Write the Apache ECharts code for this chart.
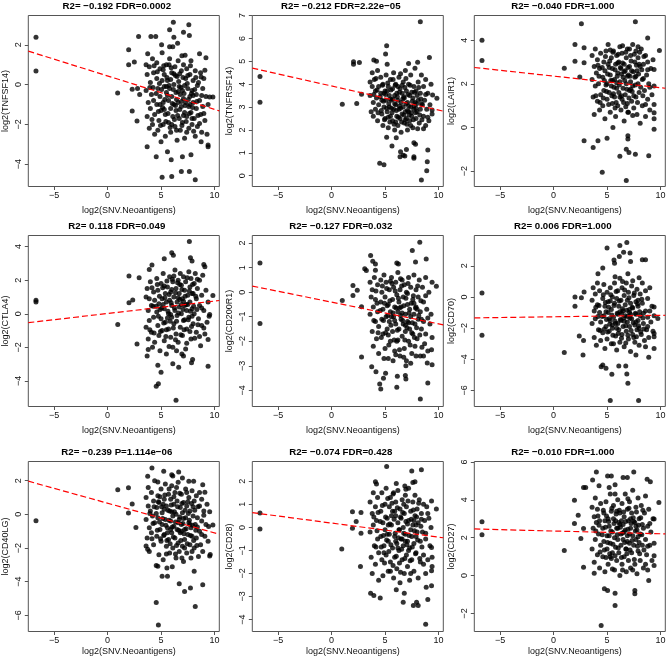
<!DOCTYPE html>
<html><head><meta charset="utf-8">
<script src="https://cdn.jsdelivr.net/npm/echarts@6/dist/echarts.min.js"></script>
<style>html,body{margin:0;padding:0;background:#fff}#c{width:669px;height:659px}</style>
</head><body><div id="c"></div>
<script>
const genes = ['TNFSF14','TNFRSF14','LAIR1','CTLA4','CD200R1','CD70','CD40LG','CD28','CD27'];
const titles = ['R2= \u22120.192 FDR=0.0002','R2= \u22120.212 FDR=2.22e\u221205','R2= \u22120.040 FDR=1.000',
  'R2= 0.118 FDR=0.049','R2= \u22120.127 FDR=0.032','R2= 0.006 FDR=1.000',
  'R2= \u22120.239 P=1.114e\u221206','R2= \u22120.074 FDR=0.428','R2= \u22120.010 FDR=1.000'];
const xName = 'log2(SNV.Neoantigens)';
const xTicks = [-5,0,5,10];
const xRange = [-7.42,10.45];
const yRanges = [[-5.12,3.47],[-0.47,7.0],[-2.7,5.13],[-5.52,4.66],[-4.66,2.31],[-7.03,3.95],[-6.96,3.14],[-4.52,2.86],[-2.95,6.02]];
const yTicks = [[-4,-2,0,2],[0,1,2,3,4,5,6,7],[-2,0,2,4],[-4,-2,0,2,4],[-4,-3,-2,-1,0,1,2],[-6,-4,-2,0,2],[-6,-4,-2,0,2],[-4,-3,-2,-1,0,1,2],[-2,0,2,4,6]];
const fitIntercept = [0.434,3.92,2.355,0.018,-0.406,-1.27,0.662,0.187,2.352];
const fitSlope = [-0.1679,-0.1052,-0.0532,0.0739,-0.0884,0.0095,-0.1763,-0.061,-0.01455];

const tnfsf14 = [[-6.7,2.38],[-6.7,0.68],[0.94,-0.42],[1.97,1.75],[1.97,1.0],[2.3,-0.23],[2.5,1.13],[2.3,-1.33],[2.75,-1.83],[2.9,2.42],[2.8,-0.2],[3.0,-0.5],
[6.15,3.13],[7.6,3.0],[7.1,2.63],[5.8,2.75],[7.65,2.47],[4.05,2.42],[4.5,2.42],[6.2,2.38],[6.55,2.08],[5.05,2.0],[5.8,1.9],[3.75,1.55],[8.6,1.55],[9.2,1.35],[7.25,1.47],
[6.0,-4.62],[5.1,-4.65],[8.2,-4.78],[6.9,-4.37],[7.65,-4.37],[4.55,-3.62],[3.7,-3.12],[5.95,-3.78],[7.0,-3.62],[7.8,-3.53],[9.4,-3.03],[9.4,-3.12],[8.75,-2.87],[5.0,-2.87],[5.6,-3.37],
[9.55,-0.62],[9.85,-0.62],[9.1,0.72],[8.75,0.38],
[3.6,1.0],[3.7,0.5],[3.6,-0.3],[3.8,-0.9],[3.7,-1.6],[3.9,-2.2],[3.9,0.9],[4.0,0.1],[4.1,-0.5],[4.0,-1.2],[4.2,1.3],[4.2,-2.0],[4.3,0.6],[4.3,-0.8],[4.4,-1.5],[4.4,-2.5],
[4.6,1.1],[4.6,0.3],[4.7,-0.2],[4.6,-1.0],[4.8,-1.8],[4.7,-2.3],[4.9,0.8],[4.9,-0.6],[5.0,-1.3],[5.1,0.2],[5.1,1.6],[5.2,-0.9],[5.2,-2.0],[5.3,0.5],[5.3,-0.1],[5.4,-1.5],[5.4,-2.6],[5.5,1.0],[5.5,-0.4],
[5.6,0.2],[5.7,-0.8],[5.7,-1.9],[5.8,1.3],[5.8,-0.2],[5.9,-1.2],[5.9,-2.4],[6.0,0.6],[6.0,-0.6],[6.1,-1.6],[6.1,1.9],[6.2,0.0],[6.2,-1.0],[6.3,-2.1],[6.3,0.9],[6.4,-0.4],[6.4,-1.3],[6.5,-2.8],[6.5,0.4],
[6.6,-0.9],[6.6,1.2],[6.7,-0.1],[6.7,-1.7],[6.8,-0.5],[6.8,-2.3],[6.9,0.7],[6.9,-1.1],[7.0,-0.3],[7.0,-1.9],[7.1,1.0],[7.1,-0.7],[7.2,-1.4],[7.2,-2.7],[7.3,0.3],[7.3,-0.9],[7.4,-1.6],[7.4,0.8],[7.5,-0.2],
[7.6,-1.1],[7.6,-2.2],[7.7,0.5],[7.7,-0.6],[7.8,-1.4],[7.8,1.2],[7.9,-0.3],[7.9,-2.0],[8.0,0.2],[8.0,-0.9],[8.1,-1.7],[8.2,-2.6],[8.2,0.7],[8.3,-0.5],[8.3,-1.2],[8.4,-2.1],[8.5,0.1],
[8.6,-0.8],[8.7,-1.5],[8.7,0.6],[8.8,-2.4],[8.9,-0.2],[8.9,-1.1],[9.0,0.3],[9.1,-1.8],[9.2,-0.6],[9.3,-2.5],[9.4,-1.0],
[4.55,-0.45],[4.65,0.65],[4.75,-1.35],[4.85,0.05],[4.95,-2.05],[5.05,-0.25],[5.15,-1.15],[5.25,0.95],[5.35,-0.75],[5.45,-1.85],[5.55,0.35],[5.65,-1.45],[5.75,-0.05],[5.85,-2.15],[5.95,0.85],[6.05,-0.95],[6.15,-0.25],[6.25,-1.75],[6.35,0.45],[6.45,-0.75],
[6.55,-1.55],[6.65,0.15],[6.75,-1.25],[6.85,-0.15],[6.95,-2.05],[7.05,0.35],[7.15,-0.45],[7.25,-1.05],[7.35,-1.85],[7.45,0.05],[7.55,-0.75],[7.65,-1.45],[7.75,0.95],[7.85,-0.45],[7.95,-1.15],[8.05,-2.35],[8.15,-0.25],[8.25,0.35],[8.35,-0.85],[8.45,-1.55],
[4.25,-0.15],[4.35,0.95],[4.15,-1.75],[3.95,-0.15],[5.2,0.75],[5.6,-0.55],[6.0,-2.0],[6.35,-1.05],[6.75,0.55],[7.1,-1.55],[7.5,0.45],[7.9,-1.7],[8.4,-0.05],[8.8,-0.55],[9.0,-1.45],[5.9,0.25],[6.6,-0.35],[7.2,-0.05],[5.3,-1.25],[6.9,-0.85],
[7.7,-1.0],[6.2,0.55],[8.0,-0.55],[4.9,-1.0],[5.5,-0.1],[6.45,-2.3],[7.4,-2.4],[8.6,-1.95],[5.75,1.0],[6.95,1.45]];

const tnfrsf14 = [[-6.7,4.33],[-6.7,3.21],[1.0,3.12],[2.05,4.98],[2.05,4.87],[2.6,4.95],[2.35,3.16],[2.8,3.56],[5.15,5.68],[5.05,5.32],[5.2,4.87],[8.3,6.73],[9.15,5.17],[3.95,5.06],[4.2,5.0],[8.05,4.96],[7.2,4.9],
[4.5,0.55],[4.9,0.48],[8.4,-0.19],[8.9,0.22],[8.95,0.61],[9.0,1.12],[7.7,0.83],[7.7,0.76],[6.85,0.86],[6.7,0.9],[6.4,0.83],[7.85,1.38],[7.7,1.44],[7.0,1.15],[6.45,1.05],[5.65,1.3],[5.15,1.68],[6.05,1.66],[9.85,3.38],[9.45,3.53],[9.4,2.87],
[3.6,4.1],[3.6,3.5],[3.7,2.8],[3.8,4.5],[3.8,3.9],[3.9,3.2],[3.9,2.6],[4.0,4.2],[4.1,3.7],[4.1,2.9],[4.2,3.4],[4.3,4.6],[4.3,2.4],[4.4,3.9],[4.4,3.1],
[4.6,4.3],[4.6,3.6],[4.7,2.7],[4.7,3.3],[4.8,4.0],[4.8,2.2],[4.9,3.0],[5.0,3.7],[5.0,2.5],[5.1,4.4],[5.1,3.3],[5.2,2.8],[5.3,3.9],[5.3,2.1],[5.4,3.5],[5.4,3.0],[5.5,4.2],[5.5,2.6],
[5.6,3.3],[5.7,3.8],[5.7,2.4],[5.8,2.9],[5.8,4.5],[5.9,3.5],[5.9,2.0],[6.0,3.1],[6.0,4.0],[6.1,2.6],[6.1,3.6],[6.2,2.2],[6.2,3.3],[6.3,4.3],[6.3,2.9],[6.4,3.8],[6.4,2.5],[6.5,3.2],[6.5,1.9],
[6.6,3.6],[6.6,2.7],[6.7,4.1],[6.7,3.0],[6.8,2.3],[6.8,3.4],[6.9,2.8],[6.9,4.6],[7.0,3.7],[7.0,2.5],[7.1,3.2],[7.1,2.0],[7.2,4.0],[7.2,2.8],[7.3,3.5],[7.3,2.4],[7.4,3.0],[7.4,4.4],[7.5,2.6],
[7.6,3.4],[7.6,2.1],[7.7,3.9],[7.7,2.9],[7.8,3.2],[7.8,4.7],[7.9,2.5],[7.9,3.7],[8.0,2.8],[8.1,4.1],[8.1,3.3],[8.2,2.3],[8.3,3.6],[8.3,2.9],[8.4,4.4],[8.5,3.1],
[8.6,2.6],[8.6,3.9],[8.7,3.3],[8.8,2.2],[8.8,4.2],[8.9,2.9],[9.0,3.6],[9.1,2.4],[9.2,3.1],[9.3,4.0],[9.4,2.7],
[4.55,3.45],[4.65,2.85],[4.75,3.95],[4.85,3.25],[4.95,2.45],[5.05,3.55],[5.15,2.95],[5.25,4.05],[5.35,3.15],[5.45,2.35],[5.55,3.75],[5.65,2.75],[5.75,3.35],[5.85,2.25],[5.95,3.95],[6.05,2.85],[6.15,3.45],[6.25,2.55],[6.35,3.65],[6.45,2.95],
[6.55,2.35],[6.65,3.35],[6.75,2.65],[6.85,3.85],[6.95,3.15],[7.05,2.25],[7.15,3.55],[7.25,2.65],[7.35,3.95],[7.45,2.75],[7.55,3.25],[7.65,2.45],[7.75,3.65],[7.85,2.75],[7.95,3.15],[8.05,2.05],[8.15,3.85],[8.25,2.65],[8.35,3.35],[8.45,2.45],
[4.25,3.75],[4.35,2.75],[4.15,4.25],[3.95,3.55],[5.2,3.7],[5.6,2.95],[6.0,2.35],[6.35,3.05],[6.75,3.45],[7.1,2.85],[7.5,3.65],[7.9,2.95],[8.4,3.15],[8.8,3.55],[9.0,2.55],[5.9,3.15],[6.6,3.95],[7.2,3.05],[5.3,2.55],[6.9,2.45],
[7.7,3.05],[6.2,3.9],[8.0,3.5],[4.9,3.6],[5.5,3.35],[6.45,4.45],[7.4,2.2],[8.6,2.05],[5.75,4.2],[6.95,4.25]];

const lair1 = [[-6.7,4.0],[-6.7,3.07],[1.0,2.71],[2.0,3.8],[2.0,3.04],[2.45,2.31],[2.6,4.75],[2.85,3.65],[2.85,2.97],[2.85,-0.61],[3.7,-0.91],[4.15,-0.61],[4.55,-2.05],[7.65,4.84],[8.8,4.1],[9.9,3.53],
[6.8,-2.43],[7.05,-1.14],[6.8,-0.99],[7.65,-1.22],[6.2,-1.32],[8.9,-1.29],[9.4,-0.08],[9.4,0.68],[9.4,1.06],[9.4,1.9],[9.4,2.66],[5.0,-0.49],[5.55,0.0],[6.95,-0.53],[6.95,-0.38],
[3.6,3.3],[3.6,2.2],[3.7,1.4],[3.8,2.8],[3.8,0.6],[3.9,1.9],[3.9,3.6],[4.0,2.5],[4.1,1.2],[4.1,3.1],[4.2,2.0],[4.3,0.8],[4.3,2.7],[4.4,1.5],[4.4,3.4],
[4.6,2.3],[4.6,1.0],[4.7,3.0],[4.7,1.7],[4.8,2.6],[4.8,0.4],[4.9,3.5],[5.0,2.0],[5.0,1.3],[5.1,2.9],[5.1,3.8],[5.2,1.6],[5.3,2.4],[5.3,0.7],[5.4,3.2],[5.4,1.9],[5.5,2.7],[5.5,1.1],
[5.6,3.5],[5.7,2.2],[5.7,1.4],[5.8,2.9],[5.8,0.5],[5.9,1.8],[5.9,3.3],[6.0,2.5],[6.0,1.0],[6.1,3.0],[6.1,1.6],[6.2,2.1],[6.2,3.7],[6.3,0.8],[6.3,2.7],[6.4,1.3],[6.4,3.4],[6.5,2.3],[6.5,1.8],
[6.6,2.9],[6.6,0.3],[6.7,2.6],[6.7,1.5],[6.8,3.2],[6.8,2.0],[6.9,1.1],[6.9,3.6],[7.0,2.4],[7.0,0.7],[7.1,2.8],[7.1,1.7],[7.2,3.3],[7.2,2.1],[7.3,1.2],[7.3,2.6],[7.4,3.8],[7.4,1.9],[7.5,0.9],
[7.6,2.3],[7.6,3.0],[7.7,1.4],[7.7,3.5],[7.8,2.6],[7.8,0.6],[7.9,2.0],[7.9,3.2],[8.0,1.6],[8.1,2.8],[8.1,0.2],[8.2,3.6],[8.3,2.2],[8.3,1.0],[8.4,2.9],[8.5,1.7],
[8.6,3.3],[8.6,0.5],[8.7,2.4],[8.8,1.3],[8.8,3.0],[8.9,2.0],[9.0,0.8],[9.1,2.7],[9.2,1.5],[9.3,3.1],[9.4,0.4],
[4.55,2.75],[4.65,1.35],[4.75,2.15],[4.85,3.25],[4.95,1.65],[5.05,2.45],[5.15,1.05],[5.25,3.05],[5.35,2.15],[5.45,1.45],[5.55,3.45],[5.65,1.85],[5.75,2.65],[5.85,1.15],[5.95,2.35],[6.05,3.35],[6.15,1.95],[6.25,2.75],[6.35,1.45],[6.45,2.95],
[6.55,1.15],[6.65,2.15],[6.75,3.45],[6.85,1.75],[6.95,2.75],[7.05,1.35],[7.15,2.35],[7.25,3.05],[7.35,1.65],[7.45,2.55],[7.55,3.35],[7.65,1.95],[7.75,2.85],[7.85,1.15],[7.95,2.45],[8.05,3.45],[8.15,1.85],[8.25,2.65],[8.35,1.45],[8.45,3.25],
[4.25,2.35],[4.35,1.15],[4.15,2.85],[3.95,1.45],[5.2,2.75],[5.6,1.55],[6.0,2.95],[6.35,2.45],[6.75,0.95],[7.1,3.6],[7.5,1.45],[7.9,3.7],[8.4,2.25],[8.8,2.65],[9.0,1.85],[5.9,2.05],[6.6,2.55],[7.2,1.75],[5.3,3.55],[6.9,2.35],
[7.7,2.35],[6.2,1.4],[8.0,2.9],[4.9,1.95],[5.5,2.15],[6.45,3.75],[7.4,0.55],[8.6,1.05],[5.75,0.9],[6.95,0.7]];

const ctla4 = [[-6.7,0.8],[-6.7,0.7],[0.95,-0.64],[2.0,2.25],[2.0,0.66],[2.35,0.82],[2.75,-1.8],[2.95,2.15],[7.65,4.3],[6.0,3.64],[6.15,3.48],[7.75,3.34],[7.9,3.14],[5.3,3.28],[4.15,2.9],[3.9,2.64],[9.0,2.94],[9.1,2.8],[9.85,1.09],
[4.55,-4.31],[4.75,-4.17],[6.4,-5.15],[4.7,-3.06],[5.0,-3.48],[6.1,-2.98],[6.65,-3.18],[7.1,-2.52],[7.95,-2.72],[7.85,-2.92],[9.4,-3.12],[9.4,-1.53],[9.5,-0.14],[9.55,-0.04],[3.7,-2.52],[3.8,-2.13],
[3.6,1.0],[3.6,-0.8],[3.7,1.5],[3.8,0.2],[3.8,-1.5],[3.9,0.9],[3.9,-0.4],[4.0,1.9],[4.1,-1.1],[4.1,0.5],[4.2,-2.0],[4.3,1.3],[4.3,-0.2],[4.4,0.8],[4.4,-1.7],
[4.6,2.1],[4.6,0.1],[4.7,-0.7],[4.7,1.4],[4.8,-1.3],[4.8,0.6],[4.9,-2.2],[5.0,1.8],[5.0,-0.3],[5.1,0.9],[5.1,-1.0],[5.2,2.4],[5.3,0.3],[5.3,-1.6],[5.4,1.2],[5.4,-0.5],[5.5,0.7],[5.5,-2.4],
[5.6,1.6],[5.7,0.0],[5.7,-0.9],[5.8,2.2],[5.8,0.8],[5.9,-1.4],[5.9,1.3],[6.0,-0.2],[6.0,0.5],[6.1,-2.0],[6.1,1.9],[6.2,-0.6],[6.2,1.0],[6.3,0.2],[6.3,2.6],[6.4,-1.2],[6.4,1.5],[6.5,-0.1],[6.5,0.7],
[6.6,2.0],[6.6,-1.7],[6.7,0.4],[6.7,1.2],[6.8,-0.8],[6.8,2.4],[6.9,0.0],[6.9,1.7],[7.0,-1.3],[7.0,0.9],[7.1,2.2],[7.1,-0.4],[7.2,0.5],[7.2,1.4],[7.3,-2.1],[7.3,1.9],[7.4,0.2],[7.4,-0.9],[7.5,1.1],
[7.6,2.5],[7.6,-0.2],[7.7,0.7],[7.7,1.6],[7.8,-1.5],[7.8,2.1],[7.9,0.3],[7.9,1.2],[8.0,-0.6],[8.1,1.8],[8.1,0.0],[8.2,2.4],[8.3,-1.1],[8.3,0.9],[8.4,1.5],[8.5,-0.3],
[8.6,2.0],[8.6,0.5],[8.7,-1.9],[8.8,1.1],[8.8,-0.7],[8.9,2.3],[9.0,0.2],[9.1,-1.2],[9.2,1.4],[9.3,-0.5],[9.4,0.7],
[4.55,0.45],[4.65,1.75],[4.75,-0.15],[4.85,1.05],[4.95,-1.05],[5.05,0.35],[5.15,1.55],[5.25,-0.55],[5.35,0.95],[5.45,-1.35],[5.55,1.95],[5.65,0.15],[5.75,1.15],[5.85,-0.45],[5.95,0.65],[6.05,2.05],[6.15,-0.85],[6.25,0.35],[6.35,1.25],[6.45,-0.45],
[6.55,1.85],[6.65,0.05],[6.75,0.85],[6.85,-1.25],[6.95,1.45],[7.05,0.25],[7.15,-0.95],[7.25,1.05],[7.35,0.55],[7.45,2.15],[7.55,-0.35],[7.65,1.35],[7.75,0.15],[7.85,-0.75],[7.95,1.75],[8.05,0.45],[8.15,-1.45],[8.25,1.05],[8.35,0.25],[8.45,-0.65],
[4.25,0.45],[4.35,-1.15],[4.15,1.55],[3.95,-0.95],[5.2,0.55],[5.6,-0.25],[6.0,1.45],[6.35,-1.55],[6.75,1.75],[7.1,0.75],[7.5,0.55],[7.9,-0.15],[8.4,2.05],[8.8,0.35],[9.0,-0.85],[5.9,-0.05],[6.6,0.95],[7.2,-0.35],[5.3,1.65],[6.9,0.55],
[7.7,-1.05],[6.2,2.25],[8.0,1.2],[4.9,0.25],[5.5,-0.95],[6.45,-2.2],[7.4,-1.75],[8.6,-1.35],[5.75,-1.95],[6.95,-2.4]];

const cd200r1 = [[-6.7,1.19],[-6.7,-1.28],[1.0,-0.34],[2.0,0.27],[2.0,-0.14],[2.4,0.08],[2.8,-0.59],[2.8,-2.64],[3.65,1.49],[3.85,1.26],[4.1,1.15],[3.1,0.95],[3.25,0.88],[4.1,0.89],[8.25,2.03],[7.55,1.7],[6.1,1.19],[6.25,1.15],[7.85,1.23],[8.85,1.35],[9.8,0.24],
[8.3,-4.35],[6.1,-3.88],[4.6,-3.95],[4.5,-3.74],[3.75,-3.04],[4.15,-3.24],[5.05,-3.3],[4.85,-3.51],[6.15,-3.43],[6.95,-3.54],[6.9,-3.4],[9.0,-3.7],[8.95,-2.89],[9.4,-2.96],[9.35,-2.35],[9.4,-1.85],
[3.6,0.4],[3.6,-0.9],[3.7,-0.2],[3.8,-1.6],[3.8,0.1],[3.9,-0.6],[3.9,-2.2],[4.0,0.6],[4.1,-1.2],[4.1,-0.3],[4.2,-1.9],[4.3,0.3],[4.3,-0.8],[4.4,-1.4],[4.4,-2.5],
[4.6,0.5],[4.6,-0.4],[4.7,-1.1],[4.7,0.0],[4.8,-1.7],[4.8,-0.7],[4.9,0.7],[5.0,-0.2],[5.0,-2.3],[5.1,-1.0],[5.1,0.4],[5.2,-1.5],[5.3,-0.5],[5.3,-2.7],[5.4,0.1],[5.4,-1.2],[5.5,-0.8],[5.5,-2.0],
[5.6,0.6],[5.7,-0.3],[5.7,-1.6],[5.8,0.2],[5.8,-1.0],[5.9,-2.4],[5.9,-0.6],[6.0,0.4],[6.0,-1.3],[6.1,-0.1],[6.1,-2.0],[6.2,-0.8],[6.2,0.8],[6.3,-1.5],[6.3,-0.4],[6.4,-2.6],[6.4,0.1],[6.5,-1.1],[6.5,-0.6],
[6.6,0.5],[6.6,-1.8],[6.7,-0.2],[6.7,-1.3],[6.8,-2.3],[6.8,0.3],[6.9,-0.9],[6.9,-1.6],[7.0,0.0],[7.0,-2.8],[7.1,-0.5],[7.1,-1.2],[7.2,0.6],[7.2,-2.0],[7.3,-0.7],[7.3,-1.5],[7.4,0.2],[7.4,-1.0],[7.5,-2.5],
[7.6,-0.3],[7.6,-1.7],[7.7,0.7],[7.7,-0.9],[7.8,-1.3],[7.8,-2.2],[7.9,0.1],[7.9,-0.6],[8.0,-1.9],[8.1,-0.2],[8.1,-1.1],[8.2,0.5],[8.3,-2.6],[8.3,-0.8],[8.4,-1.5],[8.5,0.2],
[8.6,-1.2],[8.6,-0.4],[8.7,-2.1],[8.8,0.6],[8.8,-1.7],[8.9,-0.7],[9.0,-2.4],[9.1,0.0],[9.2,-1.3],[9.3,-0.9],[9.4,0.4],
[4.55,-0.75],[4.65,-1.85],[4.75,0.25],[4.85,-1.15],[4.95,-0.45],[5.05,-1.65],[5.15,0.15],[5.25,-0.95],[5.35,-2.15],[5.45,-0.35],[5.55,-1.35],[5.65,0.35],[5.75,-0.85],[5.85,-1.95],[5.95,0.05],[6.05,-0.65],[6.15,-1.55],[6.25,-0.25],[6.35,-2.35],[6.45,-0.95],
[6.55,0.25],[6.65,-1.15],[6.75,-0.55],[6.85,-1.95],[6.95,-0.25],[7.05,-1.45],[7.15,0.35],[7.25,-0.85],[7.35,-2.15],[7.45,-0.45],[7.55,-1.25],[7.65,-0.15],[7.75,-1.85],[7.85,-0.65],[7.95,-1.45],[8.05,0.25],[8.15,-0.95],[8.25,-1.75],[8.35,-0.35],[8.45,-2.25],
[4.25,-0.45],[4.35,-1.65],[4.15,0.05],[3.95,-1.15],[5.2,-0.55],[5.6,-1.0],[6.0,-2.55],[6.35,-0.65],[6.75,-2.65],[7.1,-0.05],[7.5,-1.65],[7.9,-2.6],[8.4,-1.1],[8.8,-0.15],[9.0,-1.05],[5.9,-1.15],[6.6,-0.85],[7.2,-1.25],[5.3,-1.75],[6.9,-1.35],
[7.7,-0.45],[6.2,-1.95],[8.0,-0.7],[4.9,-2.7],[5.5,0.45],[6.45,0.55],[7.4,-2.9],[8.6,-2.6],[5.75,-2.8],[6.95,-3.0]];

const cd70 = [[-6.7,0.26],[-6.7,-2.45],[1.0,-3.57],[2.0,0.0],[2.0,-0.6],[2.4,-2.51],[2.6,-0.04],[2.75,-3.72],[2.85,0.32],[2.8,-2.8],[5.0,3.15],[6.2,3.3],[6.85,3.5],[6.55,2.87],[7.15,2.83],[7.2,2.28],[5.65,2.38],[5.7,2.17],[6.15,2.6],[8.3,2.4],[8.6,2.4],[4.6,1.87],[4.15,1.49],[8.0,1.23],
[5.45,-4.96],[6.85,-4.94],[6.95,-5.53],[5.3,-6.64],[7.95,-6.64],[4.45,-4.47],[4.6,-4.36],[4.9,-4.57],[6.1,-4.43],[6.75,-4.43],[8.9,-3.87],[7.7,-3.72],[9.4,-3.3],[9.4,-2.55],[9.4,-2.34],[9.4,-0.64],[9.75,-1.38],
[3.6,-0.2],[3.6,-1.7],[3.7,0.6],[3.8,-0.9],[3.8,-2.6],[3.9,0.2],[3.9,-1.4],[4.0,-3.1],[4.1,-0.5],[4.1,0.9],[4.2,-2.1],[4.3,-1.0],[4.3,0.4],[4.4,-2.8],[4.4,-1.6],
[4.6,-0.1],[4.6,-2.3],[4.7,0.8],[4.7,-1.2],[4.8,-3.3],[4.8,-0.6],[4.9,-1.9],[5.0,0.3],[5.0,-2.7],[5.1,-1.0],[5.1,-0.3],[5.2,-2.2],[5.3,0.6],[5.3,-1.5],[5.4,-3.0],[5.4,-0.8],[5.5,0.0],[5.5,-2.0],
[5.6,-1.3],[5.7,0.9],[5.7,-0.4],[5.8,-2.5],[5.8,-1.7],[5.9,-0.1],[5.9,-3.4],[6.0,0.4],[6.0,-1.1],[6.1,-2.1],[6.1,-0.6],[6.2,1.2],[6.2,-2.9],[6.3,-0.2],[6.3,-1.5],[6.4,-2.4],[6.4,0.6],[6.5,-0.9],[6.5,-1.9],
[6.6,0.1],[6.6,-3.2],[6.7,-1.2],[6.7,-0.5],[6.8,-2.2],[6.8,0.9],[6.9,-1.6],[6.9,-0.2],[7.0,-2.7],[7.0,0.3],[7.1,-1.0],[7.1,-1.9],[7.2,-0.4],[7.2,-3.5],[7.3,0.7],[7.3,-1.4],[7.4,-2.4],[7.4,-0.7],[7.5,0.1],
[7.6,-1.8],[7.6,-2.9],[7.7,-0.3],[7.7,-1.1],[7.8,0.5],[7.8,-2.1],[7.9,-1.5],[7.9,-0.6],[8.0,-3.1],[8.1,0.2],[8.1,-1.2],[8.2,-2.4],[8.3,-0.4],[8.3,0.9],[8.4,-1.7],[8.5,-2.8],
[8.6,-0.9],[8.6,0.4],[8.7,-2.1],[8.8,-1.3],[8.8,-0.1],[8.9,-2.6],[9.0,0.6],[9.1,-1.6],[9.2,-0.6],[9.3,-2.2],[9.4,-1.2],
[4.55,-1.25],[4.65,0.15],[4.75,-2.05],[4.85,-0.35],[4.95,-1.45],[5.05,-2.25],[5.15,-0.65],[5.25,-1.75],[5.35,0.15],[5.45,-1.15],[5.55,-2.45],[5.65,-0.55],[5.75,-1.55],[5.85,0.35],[5.95,-1.05],[6.05,-2.35],[6.15,-0.25],[6.25,-1.45],[6.35,-2.65],[6.45,-0.75],
[6.55,-1.35],[6.65,0.45],[6.75,-1.85],[6.85,-0.85],[6.95,-2.45],[7.05,-0.05],[7.15,-1.35],[7.25,-2.15],[7.35,-0.65],[7.45,-1.65],[7.55,0.25],[7.65,-1.05],[7.75,-2.55],[7.85,-0.45],[7.95,-1.85],[8.05,-0.95],[8.15,-2.25],[8.25,-0.15],[8.35,-1.35],[8.45,-2.05],
[4.25,-0.55],[4.35,-2.15],[4.15,-1.25],[3.95,-0.65],[5.2,-1.4],[5.6,-3.0],[6.0,-1.7],[6.35,-1.05],[6.75,-2.95],[7.1,-0.8],[7.5,-2.6],[7.9,-0.2],[8.4,-1.05],[8.8,-1.9],[9.0,-0.9],[5.9,-2.0],[6.6,-1.55],[7.2,-1.1],[5.3,-0.25],[6.9,-1.25],
[7.7,-1.6],[6.2,-0.95],[8.0,-2.0],[4.9,-0.95],[5.5,-1.8],[6.45,1.0],[7.4,1.05],[8.6,-3.2],[5.75,1.3],[6.95,1.5]];

const cd40lg = [[-6.7,-0.38],[0.95,1.46],[1.95,1.58],[1.95,0.08],[2.3,0.62],[4.75,-6.58],[4.55,-5.24],[8.2,-5.48],[8.9,-4.18],[7.2,-4.58],[7.75,-4.38],[6.7,-4.12],[5.1,-3.68],[5.6,-3.68],[4.7,-3.08],[4.55,-3.04],[5.55,-3.18],[6.05,-3.12],[8.1,-3.38],[9.55,-2.48],[9.6,-2.38],
[4.15,2.76],[5.25,2.56],[6.65,2.52],[6.0,2.36],[6.1,2.28],[7.6,1.96],[8.05,1.96],[7.0,2.16],[3.75,2.26],[4.7,1.92],[8.9,1.76],[9.1,1.32],[9.55,0.16],[9.85,-0.64],[9.45,-0.72],[2.65,-0.78],[3.6,-1.88],[3.75,-2.08],
[3.6,1.0],[3.6,-0.3],[3.7,-1.4],[3.8,0.5],[3.8,1.6],[3.9,-0.8],[3.9,-2.2],[4.0,0.2],[4.1,1.3],[4.1,-1.1],[4.2,-0.1],[4.3,0.8],[4.3,-1.8],[4.4,-0.5],[4.4,2.0],
[4.6,0.4],[4.6,-1.3],[4.7,1.1],[4.7,-0.2],[4.8,-2.4],[4.8,0.7],[4.9,-0.9],[5.0,1.5],[5.0,-1.6],[5.1,0.1],[5.1,-0.6],[5.2,-2.7],[5.3,0.9],[5.3,-1.2],[5.4,1.8],[5.4,-0.3],[5.5,-1.9],[5.5,0.5],
[5.6,-0.8],[5.7,1.2],[5.7,-1.5],[5.8,0.2],[5.8,-2.3],[5.9,-0.4],[5.9,0.9],[6.0,-1.1],[6.0,1.7],[6.1,-0.1],[6.1,-2.0],[6.2,0.6],[6.2,-0.7],[6.3,-1.4],[6.3,1.3],[6.4,-2.6],[6.4,0.0],[6.5,-0.9],[6.5,0.8],
[6.6,-1.7],[6.6,1.9],[6.7,-0.3],[6.7,-2.2],[6.8,0.4],[6.8,-1.1],[6.9,1.2],[6.9,-0.6],[7.0,-1.9],[7.0,0.1],[7.1,-2.8],[7.1,0.7],[7.2,-0.9],[7.2,-1.5],[7.3,1.5],[7.3,-0.2],[7.4,-2.3],[7.4,0.5],[7.5,-1.2],
[7.6,-0.5],[7.6,1.0],[7.7,-1.8],[7.7,0.2],[7.8,-2.6],[7.8,-0.8],[7.9,1.4],[7.9,-1.3],[8.0,-0.1],[8.1,0.8],[8.1,-2.0],[8.2,-0.6],[8.3,1.1],[8.3,-1.4],[8.4,-0.2],[8.5,-2.5],
[8.6,0.5],[8.6,-1.0],[8.7,-1.8],[8.8,0.9],[8.8,-0.4],[8.9,-2.2],[9.0,0.2],[9.1,-1.3],[9.2,-0.6],[9.3,0.6],[9.4,-1.6],
[4.55,0.05],[4.65,-0.95],[4.75,0.75],[4.85,-0.45],[4.95,-1.45],[5.05,0.45],[5.15,-0.25],[5.25,-1.25],[5.35,1.15],[5.45,-0.65],[5.55,-1.55],[5.65,0.25],[5.75,-0.35],[5.85,-1.75],[5.95,0.55],[6.05,-0.75],[6.15,-1.35],[6.25,0.15],[6.35,-0.45],[6.45,-1.85],
[6.55,0.45],[6.65,-0.95],[6.75,-0.15],[6.85,-1.55],[6.95,0.65],[7.05,-0.55],[7.15,-1.15],[7.25,0.25],[7.35,-0.85],[7.45,-1.75],[7.55,0.05],[7.65,-0.35],[7.75,-1.25],[7.85,0.65],[7.95,-0.65],[8.05,-1.55],[8.15,0.25],[8.25,-0.95],[8.35,-1.85],[8.45,0.45],
[4.25,-0.55],[4.35,0.45],[4.15,-1.45],[3.95,0.05],[5.2,0.6],[5.6,-1.1],[6.0,0.15],[6.35,-2.35],[6.75,1.25],[7.1,-0.25],[7.5,0.75],[7.9,-2.2],[8.4,-0.75],[8.8,-1.2],[9.0,-0.05],[5.9,-0.9],[6.6,-0.5],[7.2,-2.0],[5.3,0.3],[6.9,-1.0],
[7.7,-0.6],[6.2,1.05],[8.0,0.45],[4.9,1.05],[5.5,-2.35],[6.45,1.6],[7.4,1.3],[8.6,1.3],[5.75,1.5],[6.95,-2.6]];

const cd28 = [[-6.7,0.62],[-6.7,-0.07],[0.95,-0.94],[1.95,0.68],[1.95,-0.04],[2.3,0.25],[2.75,0.65],[2.7,-1.7],[2.75,-0.26],[5.15,2.64],[8.4,2.5],[7.5,2.45],[4.1,1.98],[4.2,1.88],[6.05,1.9],[6.85,1.8],[7.6,1.95],[7.8,1.98],[9.8,0.8],[9.35,1.15],
[8.8,-4.21],[7.65,-3.39],[7.95,-3.25],[8.1,-3.39],[6.7,-3.25],[6.8,-2.86],[6.05,-2.71],[3.65,-2.86],[3.95,-2.96],[4.55,-3.07],[9.0,-3.13],[8.85,-2.6],[9.35,-2.53],[9.35,-1.88],[9.4,-1.3],[9.35,-0.87],
[3.6,1.1],[3.6,-0.2],[3.7,-1.3],[3.8,0.6],[3.8,-2.0],[3.9,0.1],[3.9,1.5],[4.0,-0.8],[4.1,0.9],[4.1,-1.6],[4.2,0.3],[4.3,-0.5],[4.3,1.3],[4.4,-1.1],[4.4,-2.3],
[4.6,0.7],[4.6,-0.4],[4.7,1.5],[4.7,-1.4],[4.8,0.2],[4.8,-2.1],[4.9,-0.8],[5.0,1.0],[5.0,-0.1],[5.1,-1.2],[5.1,1.7],[5.2,0.4],[5.3,-0.6],[5.3,-1.9],[5.4,0.9],[5.4,-0.3],[5.5,1.3],[5.5,-1.5],
[5.6,0.1],[5.7,-0.9],[5.7,0.7],[5.8,-2.2],[5.8,1.5],[5.9,-0.4],[5.9,-1.3],[6.0,0.5],[6.0,1.1],[6.1,-0.7],[6.1,-1.8],[6.2,0.2],[6.2,1.6],[6.3,-1.0],[6.3,-0.1],[6.4,0.8],[6.4,-2.4],[6.5,-0.5],[6.5,0.4],
[6.6,-1.4],[6.6,1.2],[6.7,0.0],[6.7,-0.8],[6.8,0.6],[6.8,-2.0],[6.9,1.4],[6.9,-0.3],[7.0,-1.2],[7.0,0.9],[7.1,-0.6],[7.1,-1.7],[7.2,0.3],[7.2,1.7],[7.3,-0.9],[7.3,-2.3],[7.4,0.7],[7.4,-0.1],[7.5,-1.4],
[7.6,1.1],[7.6,0.1],[7.7,-0.7],[7.7,-1.9],[7.8,0.5],[7.8,1.4],[7.9,-0.4],[7.9,-1.1],[8.0,0.8],[8.1,-2.2],[8.1,0.2],[8.2,1.2],[8.3,-0.6],[8.3,-1.5],[8.4,0.6],[8.5,-0.2],
[8.6,1.0],[8.6,-1.2],[8.7,0.3],[8.8,-2.0],[8.8,-0.5],[8.9,0.9],[9.0,-1.4],[9.1,0.4],[9.2,-0.8],[9.3,0.0],[9.4,-1.7],
[4.55,0.25],[4.65,-0.85],[4.75,0.95],[4.85,-0.35],[4.95,-1.55],[5.05,0.45],[5.15,-0.55],[5.25,1.25],[5.35,-1.05],[5.45,0.15],[5.55,-0.75],[5.65,1.05],[5.75,-1.65],[5.85,0.35],[5.95,-0.25],[6.05,-1.25],[6.15,0.85],[6.25,-0.45],[6.35,-1.55],[6.45,0.45],
[6.55,-0.95],[6.65,0.65],[6.75,-0.25],[6.85,-1.35],[6.95,0.25],[7.05,-0.75],[7.15,1.15],[7.25,-0.35],[7.35,-1.45],[7.45,0.35],[7.55,-0.85],[7.65,0.75],[7.75,-0.15],[7.85,-1.15],[7.95,0.45],[8.05,-0.55],[8.15,1.05],[8.25,-1.35],[8.35,0.05],[8.45,-0.85],
[4.25,-0.15],[4.35,0.65],[4.15,-0.85],[3.95,0.45],[5.2,-0.3],[5.6,0.5],[6.0,-0.6],[6.35,-0.1],[6.75,1.0],[7.1,0.15],[7.5,-0.4],[7.9,0.1],[8.4,0.35],[8.8,-0.25],[9.0,0.6],[5.9,0.7],[6.6,-0.5],[7.2,-1.0],[5.3,0.1],[6.9,-0.6],
[7.7,0.3],[6.2,-0.9],[8.0,-0.2],[4.9,-1.1],[5.5,-1.9],[6.45,-1.95],[7.4,-2.0],[8.6,-1.6],[5.75,1.45],[6.95,1.65]];

const cd27 = [[-6.7,2.84],[-6.7,2.16],[1.0,1.32],[1.95,3.98],[1.95,2.75],[2.3,3.19],[2.55,1.96],[2.8,2.49],[2.8,0.44],[2.8,4.65],[3.0,4.65],[4.0,5.47],[3.65,5.05],[5.05,5.26],[5.4,5.26],[6.5,5.18],[6.9,5.18],[7.5,5.47],[8.75,5.09],[9.05,4.95],[5.75,4.79],[5.2,4.65],[4.25,4.74],[9.85,3.86],[9.4,2.98],
[4.45,-2.63],[5.75,-1.58],[5.75,-0.93],[7.6,-0.96],[7.6,-0.79],[4.75,-0.7],[5.05,-0.79],[3.8,0.12],[8.9,-0.26],[9.4,1.05],[9.4,0.53],
[3.6,3.6],[3.6,1.4],[3.7,2.5],[3.8,0.7],[3.8,3.1],[3.9,1.9],[3.9,4.1],[4.0,2.8],[4.1,1.1],[4.1,3.5],[4.2,2.2],[4.3,0.4],[4.3,2.9],[4.4,1.6],[4.4,3.8],
[4.6,2.5],[4.6,1.0],[4.7,3.3],[4.7,1.8],[4.8,2.9],[4.8,0.2],[4.9,3.9],[5.0,2.1],[5.0,1.4],[5.1,3.0],[5.1,0.6],[5.2,2.6],[5.3,4.3],[5.3,1.7],[5.4,3.4],[5.4,0.9],[5.5,2.3],[5.5,1.2],
[5.6,3.7],[5.7,2.0],[5.7,0.3],[5.8,2.9],[5.8,1.5],[5.9,3.4],[5.9,0.8],[6.0,2.5],[6.0,4.0],[6.1,1.2],[6.1,2.8],[6.2,0.0],[6.2,3.3],[6.3,2.2],[6.3,1.6],[6.4,3.8],[6.4,0.6],[6.5,2.7],[6.5,1.9],
[6.6,3.1],[6.6,1.0],[6.7,2.4],[6.7,4.3],[6.8,1.4],[6.8,0.2],[6.9,3.5],[6.9,2.1],[7.0,0.8],[7.0,2.9],[7.1,1.7],[7.1,3.9],[7.2,2.5],[7.2,0.4],[7.3,3.3],[7.3,1.2],[7.4,2.1],[7.4,4.5],[7.5,1.6],
[7.6,2.8],[7.6,0.6],[7.7,3.6],[7.7,1.9],[7.8,2.4],[7.8,0.1],[7.9,4.1],[7.9,1.3],[8.0,3.0],[8.1,2.2],[8.1,0.8],[8.2,3.7],[8.3,1.6],[8.3,2.7],[8.4,0.4],[8.5,3.3],
[8.6,1.9],[8.6,4.2],[8.7,1.1],[8.8,2.6],[8.8,0.3],[8.9,3.5],[9.0,1.6],[9.1,2.3],[9.2,0.8],[9.3,3.0],[9.4,1.7],
[4.55,2.15],[4.65,3.45],[4.75,1.35],[4.85,2.55],[4.95,3.15],[5.05,1.75],[5.15,2.85],[5.25,1.15],[5.35,2.35],[5.45,3.55],[5.55,1.65],[5.65,2.75],[5.75,1.05],[5.85,3.25],[5.95,2.15],[6.05,1.45],[6.15,3.45],[6.25,2.55],[6.35,0.95],[6.45,2.25],
[6.55,3.35],[6.65,1.75],[6.75,2.85],[6.85,1.15],[6.95,2.45],[7.05,3.55],[7.15,1.35],[7.25,2.75],[7.35,1.85],[7.45,3.05],[7.55,0.85],[7.65,2.35],[7.75,3.35],[7.85,1.55],[7.95,2.65],[8.05,1.15],[8.15,3.05],[8.25,2.15],[8.35,3.45],[8.45,1.35],
[4.25,2.65],[4.35,1.25],[4.15,3.15],[3.95,2.35],[5.2,2.1],[5.6,3.0],[6.0,1.9],[6.35,2.9],[6.75,1.4],[7.1,2.2],[7.5,2.85],[7.9,2.05],[8.4,2.5],[8.8,1.55],[9.0,2.75],[5.9,2.5],[6.6,2.3],[7.2,3.0],[5.3,1.0],[6.9,1.8],
[7.7,2.6],[6.2,2.7],[8.0,1.75],[4.9,0.95],[5.5,0.35],[6.45,0.3],[7.4,0.3],[8.6,0.6],[5.75,4.3],[6.95,4.05]];

const panelData = [tnfsf14,tnfrsf14,lair1,ctla4,cd200r1,cd70,cd40lg,cd28,cd27];

// layout (pixels)
const colLeft = [28.3, 252.3, 474.3];
const colW = 191;
const rowTop = [15.5, 235.5, 461.5];
const rowH = [171, 171, 170];
const xNameOffset = [24.5, 24, 20];
const FONT = '"Liberation Sans", Arial, Helvetica, sans-serif';
const fmt = v => String(v).replace('-', '\u2212');

const grids = [], xAxes = [], yAxes = [], series = [], graphics = [];
for (let i = 0; i < 9; i++) {
  const r = Math.floor(i / 3), c = i % 3;
  const L = colLeft[c], T = rowTop[r], W = colW, H = rowH[r];
  grids.push({left: L, top: T, width: W, height: H, show: true, borderColor: '#555', borderWidth: 1, backgroundColor: 'transparent', containLabel: false});
  xAxes.push({type: 'value', gridIndex: i, min: xRange[0], max: xRange[1], position: 'bottom',
    axisLine: {show: false, onZero: false}, splitLine: {show: false},
    axisTick: {show: true, length: 3.5, lineStyle: {color: '#555', width: 1}, customValues: xTicks},
    axisLabel: {customValues: xTicks, margin: 4.5, fontSize: 9, color: '#111', fontFamily: FONT, formatter: fmt}});
  yAxes.push({type: 'value', gridIndex: i, min: yRanges[i][0], max: yRanges[i][1], position: 'left',
    axisLine: {show: false, onZero: false}, splitLine: {show: false},
    axisTick: {show: true, length: 3.5, lineStyle: {color: '#555', width: 1}, customValues: yTicks[i]},
    axisLabel: {customValues: yTicks[i], rotate: 90, margin: 5, fontSize: 9, color: '#111', fontFamily: FONT, formatter: fmt}});
  series.push({type: 'scatter', xAxisIndex: i, yAxisIndex: i, data: panelData[i], symbolSize: 5,
    itemStyle: {color: '#000'}, silent: true, z: 2});
  const x0 = xRange[0], x1 = xRange[1];
  series.push({type: 'line', xAxisIndex: i, yAxisIndex: i,
    data: [[x0, fitIntercept[i] + fitSlope[i] * x0], [x1, fitIntercept[i] + fitSlope[i] * x1]],
    symbol: 'none', silent: true, z: 3, lineStyle: {color: '#ff0000', width: 1.2, type: [6, 3]}});
  graphics.push({type: 'text', x: L + W / 2 - 7, y: T - 9.3, silent: true,
    style: {text: titles[i], fontSize: 9.7, fontWeight: 'bold', fontFamily: FONT, fill: '#000', align: 'center', verticalAlign: 'middle'}});
  graphics.push({type: 'text', x: L + W / 2 + 5, y: T + H + xNameOffset[r], silent: true,
    style: {text: xName, fontSize: 9, fontFamily: FONT, fill: '#111', align: 'center', verticalAlign: 'middle'}});
  graphics.push({type: 'text', x: L - 23, y: T + H / 2, rotation: Math.PI / 2, silent: true,
    style: {text: 'log2(' + genes[i] + ')', fontSize: 9, fontFamily: FONT, fill: '#111', align: 'center', verticalAlign: 'middle'}});
}

const chart = echarts.init(document.getElementById('c'), null, {renderer: 'canvas'});
chart.setOption({animation: false, backgroundColor: '#fff', grid: grids, xAxis: xAxes, yAxis: yAxes, series: series, graphic: graphics});
</script>
</body></html>
